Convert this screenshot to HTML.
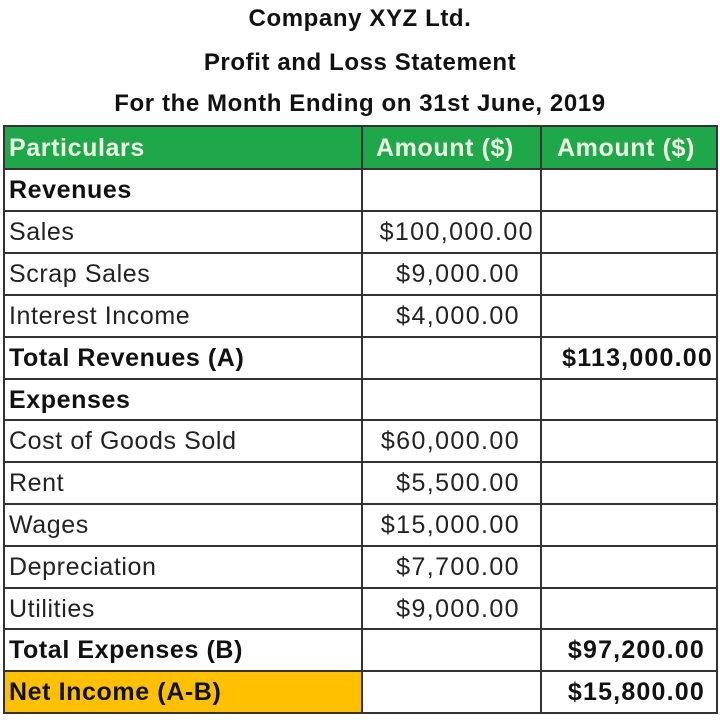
<!DOCTYPE html>
<html><head><meta charset="utf-8"><style>
body{margin:0;width:720px;height:720px;background:#fff;overflow:hidden;font-family:"Liberation Sans",sans-serif;position:relative}
.t{position:absolute;left:0;width:720px;text-align:center;font-weight:bold;font-size:24px;letter-spacing:0.6px;color:#111}
.r{position:absolute;left:4px;width:713px;height:42px;font-size:25px;color:#222;letter-spacing:0.6px}
.r span{position:absolute;top:7px;white-space:nowrap}
.a{left:5px}.b{right:197px;text-align:right;letter-spacing:1.4px}.c{right:4px;letter-spacing:1.2px}
.bold{font-weight:bold;color:#111}
</style></head><body>
<div class="t" style="top:5px">Company XYZ Ltd.</div>
<div class="t" style="top:49px">Profit and Loss Statement</div>
<div class="t" style="top:90px">For the Month Ending on 31st June, 2019</div>
<div style="position:absolute;left:4px;top:126px;width:713px;height:43px;background:#1fa84a"></div>
<div style="position:absolute;left:4px;top:671px;width:358px;height:42px;background:#ffc000"></div>
<svg style="position:absolute;left:0;top:0" width="720" height="720">
<g stroke="#333" stroke-width="2">
<rect x="4" y="126" width="713" height="587" fill="none"/>
<line x1="362" y1="126" x2="362" y2="713"/><line x1="541" y1="126" x2="541" y2="713"/>
<line x1="4" y1="169" x2="717" y2="169"/><line x1="4" y1="211" x2="717" y2="211"/>
<line x1="4" y1="253" x2="717" y2="253"/><line x1="4" y1="295" x2="717" y2="295"/>
<line x1="4" y1="337" x2="717" y2="337"/><line x1="4" y1="379" x2="717" y2="379"/>
<line x1="4" y1="420" x2="717" y2="420"/><line x1="4" y1="462" x2="717" y2="462"/>
<line x1="4" y1="504" x2="717" y2="504"/><line x1="4" y1="546" x2="717" y2="546"/>
<line x1="4" y1="588" x2="717" y2="588"/><line x1="4" y1="629" x2="717" y2="629"/>
<line x1="4" y1="671" x2="717" y2="671"/>
</g></svg>
<div class="r bold" style="top:127px"><span class="a" style="color:#eaf8e4">Particulars</span><span style="left:372px;color:#eaf8e4">Amount ($)</span><span style="left:553px;color:#eaf8e4">Amount ($)</span></div>
<div class="r bold" style="top:169px"><span class="a">Revenues</span></div>
<div class="r" style="top:211px"><span class="a">Sales</span><span style="right:183px;letter-spacing:1.4px">$100,000.00</span></div>
<div class="r" style="top:253px"><span class="a">Scrap Sales</span><span class="b">$9,000.00</span></div>
<div class="r" style="top:295px"><span class="a">Interest Income</span><span class="b">$4,000.00</span></div>
<div class="r bold" style="top:337px"><span class="a">Total Revenues (A)</span><span class="c">$113,000.00</span></div>
<div class="r bold" style="top:379px"><span class="a">Expenses</span></div>
<div class="r" style="top:420px"><span class="a">Cost of Goods Sold</span><span class="b">$60,000.00</span></div>
<div class="r" style="top:462px"><span class="a">Rent</span><span class="b">$5,500.00</span></div>
<div class="r" style="top:504px"><span class="a">Wages</span><span class="b">$15,000.00</span></div>
<div class="r" style="top:546px"><span class="a">Depreciation</span><span class="b">$7,700.00</span></div>
<div class="r" style="top:588px"><span class="a">Utilities</span><span class="b">$9,000.00</span></div>
<div class="r bold" style="top:629px"><span class="a">Total Expenses (B)</span><span class="c" style="right:12px">$97,200.00</span></div>
<div class="r bold" style="top:671px"><span class="a">Net Income (A-B)</span><span class="c" style="right:12px">$15,800.00</span></div>
</body></html>
